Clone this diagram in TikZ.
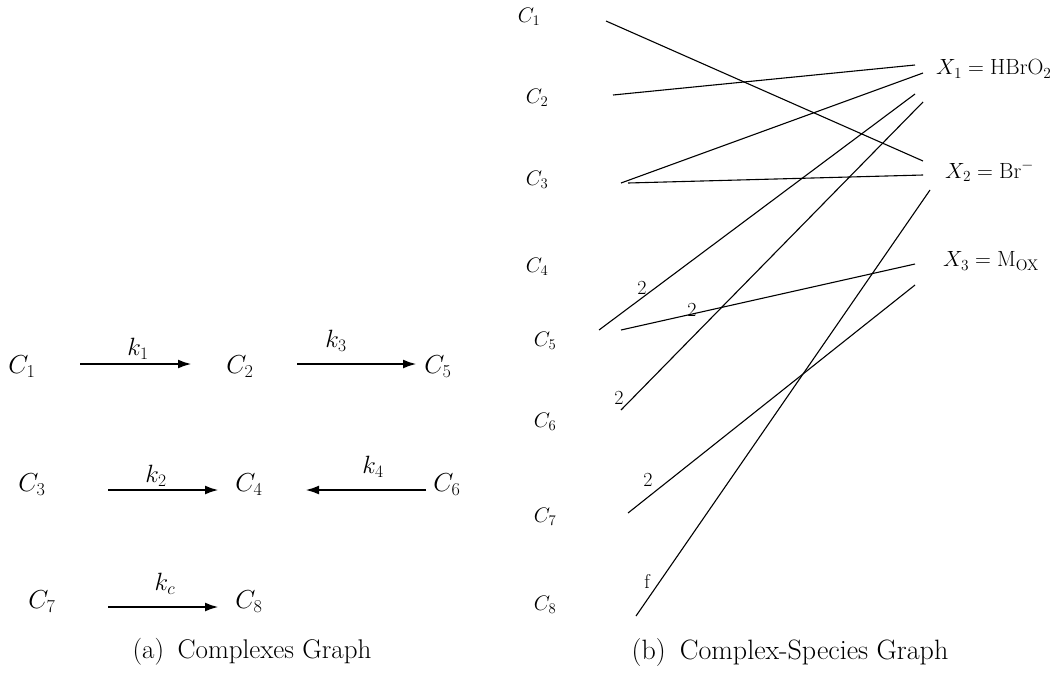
\RequirePackage{fix-cm}
\documentclass[tikz,border=0pt]{standalone}
\usetikzlibrary{arrows.meta}
\begin{document}
\begin{tikzpicture}[x=1pt,y=-1pt,
  bigC/.style={inner sep=0pt,font=\fontsize{26}{30}\selectfont},
  rate/.style={inner sep=0pt,font=\fontsize{25}{28}\selectfont},
  smallC/.style={inner sep=0pt,font=\fontsize{21}{24}\selectfont},
  spec/.style={inner sep=0pt,anchor=west,font=\fontsize{22}{26}\selectfont},
  coef/.style={inner sep=0pt,font=\fontsize{20}{22}\selectfont},
  capt/.style={inner sep=0pt,font=\fontsize{27}{32}\selectfont},
  captb/.style={inner sep=0pt,font=\fontsize{28}{32}\selectfont},
  reac/.style={line width=2.6pt,-{Latex[length=14pt,width=9pt]}},
  link/.style={line width=1.1pt}]
\useasboundingbox (0,0) rectangle (1059,673);
% ---------- (a) Complexes graph ----------
\node[bigC] (a1) at (22,367) {$C_1$};
\node[bigC] (a2) at (240,367) {$C_2$};
\node[bigC] (a5) at (438,367) {$C_5$};
\node[bigC] (a3) at (32,485) {$C_3$};
\node[bigC] (a4) at (249,485) {$C_4$};
\node[bigC] (a6) at (447,485) {$C_6$};
\node[bigC] (a7) at (42,602) {$C_7$};
\node[bigC] (a8) at (249,602) {$C_8$};
\coordinate (p1s) at (80,364); \coordinate (p1e) at (192,364);
\coordinate (p3s) at (297,364); \coordinate (p3e) at (417,364);
\coordinate (p2s) at (108,490); \coordinate (p2e) at (219,490);
\coordinate (p4s) at (426,490); \coordinate (p4e) at (305,490);
\coordinate (pcs) at (108,607); \coordinate (pce) at (219,607);
\draw[reac] (p1s) -- (p1e);
\draw[reac] (p3s) -- (p3e);
\draw[reac] (p2s) -- (p2e);
\draw[reac] (p4s) -- (p4e);
\draw[reac] (pcs) -- (pce);
\node[rate] (k1) at (138,349) {$k_1$};
\node[rate] (k3) at (336,341) {$k_3$};
\node[rate] (k2) at (156,476) {$k_2$};
\node[rate] (k4) at (373,467) {$k_4$};
\node[rate] (kc) at (165,584) {$k_c$};
\node[capt] (capa) at (252,652) {(a)\enspace Complexes Graph};
% ---------- (b) Complex-species graph ----------
\node[smallC] (b1) at (529,17) {$C_1$};
\node[smallC] (b2) at (537,98) {$C_2$};
\node[smallC] (b3) at (537,180) {$C_3$};
\node[smallC] (b4) at (537,267) {$C_4$};
\node[smallC] (b5) at (545,341) {$C_5$};
\node[smallC] (b6) at (545,422) {$C_6$};
\node[smallC] (b7) at (545,517) {$C_7$};
\node[smallC] (b8) at (545,605) {$C_8$};
\node[spec] (x1) at (936,69) {$X_1 = \mathrm{HBrO_2}$};
\node[spec] (x2) at (945,171) {$X_2 = \mathrm{Br}^{-}$};
\node[spec] (x3) at (943,261) {$X_3 = \mathrm{M_{OX}}$};
% end points
\coordinate (c1o) at (606,21);
\coordinate (c2o) at (613,95);
\coordinate (c3a) at (621,183);
\coordinate (c3b) at (628,183);
\coordinate (c5a) at (599,330);
\coordinate (c5b) at (621,330);
\coordinate (c6o) at (621,410);
\coordinate (c7o) at (628,513);
\coordinate (c8o) at (636,616);
\coordinate (x1a) at (915,65);
\coordinate (x1b) at (923,73);
\coordinate (x1c) at (915,94);
\coordinate (x1d) at (923,102);
\coordinate (x2a) at (923,161);
\coordinate (x2b) at (923,175);
\coordinate (x2c) at (930,190);
\coordinate (x3a) at (915,264);
\coordinate (x3b) at (915,285);
\draw[link] (c1o) -- (x2a);
\draw[link] (c2o) -- (x1a);
\draw[link] (c3a) -- (x1b);
\draw[link] (c3b) -- (x2b);
\draw[link] (c5a) -- (x1c);
\draw[link] (c5b) -- (x3a);
\draw[link] (c6o) -- (x1d);
\draw[link] (c7o) -- (x3b);
\draw[link] (c8o) -- (x2c);
\node[coef] (n1) at (642,288) {2};
\node[coef] (n2) at (692,310) {2};
\node[coef] (n3) at (619,398) {2};
\node[coef] (n4) at (648,480) {2};
\node[coef] (n5) at (647,581) {f};
\node[captb] (capb) at (790,652) {(b)\enspace Complex-Species Graph};
\end{tikzpicture}
\end{document}
